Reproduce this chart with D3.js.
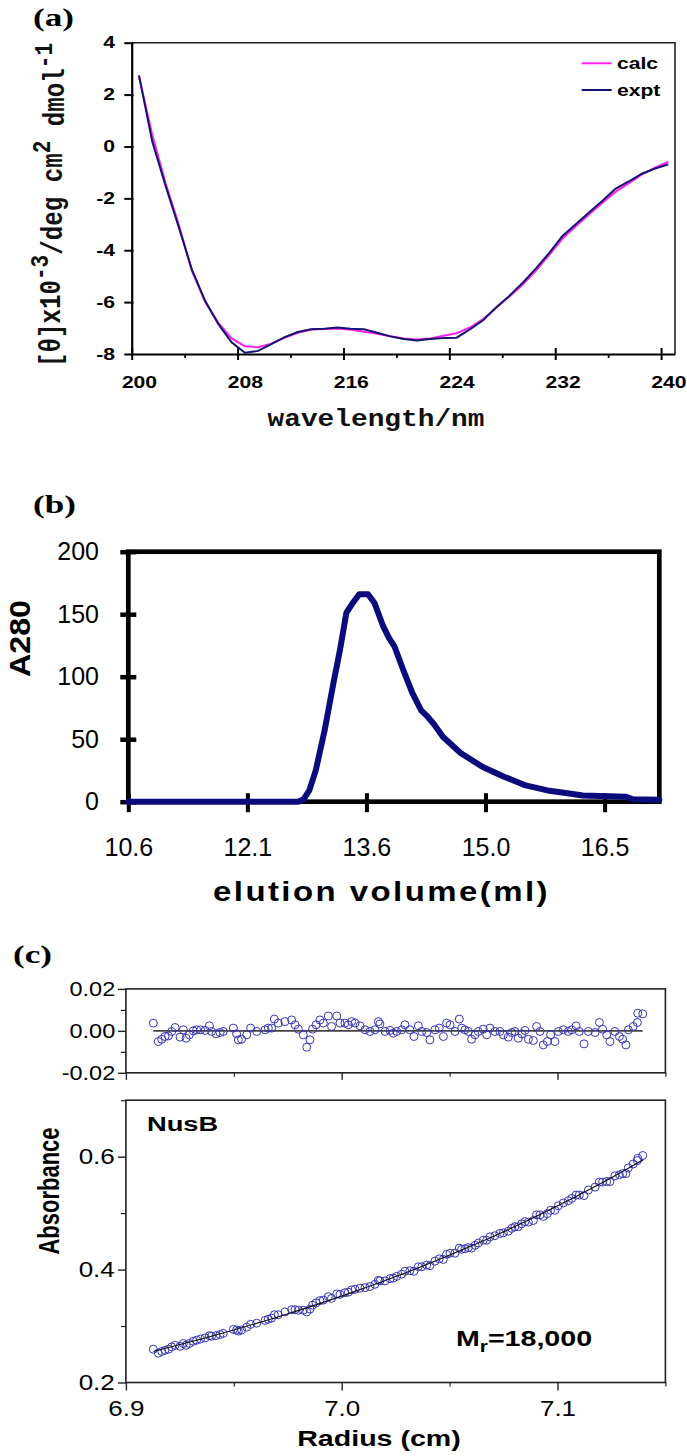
<!DOCTYPE html>
<html><head><meta charset="utf-8">
<script src="https://cdn.jsdelivr.net/npm/d3@7"></script>
<style>body{margin:0;background:#fff} svg{display:block}</style>
</head><body><svg id="c" width="687" height="1456"></svg>
<script>
// ---------- Panel (a): CD spectrum ----------
const cdWavelength = [200,201,202,203,204,205,206,207,208,209,210,211,212,213,214,215,216,217,218,219,220,
  221,222,223,224,225,226,227,228,229,230,231,232,233,234,235,236,237,238,239,240];
const cdExpt = [2.74,0.2,-1.5,-3.1,-4.75,-5.95,-6.85,-7.55,-7.95,-7.88,-7.62,-7.35,-7.15,-7.05,-7.03,-6.98,-7.03,-7.05,-7.18,-7.32,-7.42,
  -7.48,-7.42,-7.38,-7.37,-7.05,-6.7,-6.2,-5.75,-5.25,-4.7,-4.1,-3.45,-3.0,-2.55,-2.1,-1.63,-1.35,-1.05,-0.85,-0.69];
const cdCalc = [2.7,0.45,-1.4,-3.0,-4.8,-6.0,-6.8,-7.4,-7.7,-7.74,-7.6,-7.38,-7.18,-7.06,-7.04,-7.02,-7.07,-7.14,-7.22,-7.32,-7.4,
  -7.44,-7.4,-7.3,-7.2,-6.98,-6.65,-6.22,-5.78,-5.32,-4.78,-4.18,-3.55,-3.08,-2.62,-2.18,-1.75,-1.42,-1.08,-0.82,-0.59];
const cdXTickLabels = [200,208,216,224,232,240];
const cdYTicks = [-8,-6,-4,-2,0,2,4];
const cdSeries = ["calc","expt"];

// ---------- Panel (b): gel filtration ----------
const secVolume = [10.6,12.71,12.78,12.85,12.93,13.04,13.15,13.23,13.31,13.39,13.47,13.58,13.66,13.77,13.84,13.91,14.02,14.13,14.24,
  14.32,14.40,14.51,14.73,15.0,15.27,15.54,15.81,16.08,16.25,16.79,16.87,17.2];
const secA280 = [0,0,2,9,25,57,95,121,151,159,166,166,159,140,131,124,105,87,73,68,62,52,39,28,20,13,9,6.5,5,4,2,1.5];
const secXTicks = [10.6,12.08,13.56,15.04,16.52];
const secYTicks = [0,50,100,150,200];

// ---------- Panel (c): sedimentation equilibrium ----------
const auRadius = [
  6.9127,6.9150,6.9166,6.9181,6.9197,6.9212,6.9228,6.9251,6.9266,6.9279,
  6.9294,6.9312,6.9328,6.9346,6.9367,6.9387,6.9397,6.9418,6.9436,6.9451,
  6.9498,6.9513,6.9521,6.9536,6.9560,6.9578,6.9606,6.9645,6.9660,6.9675,
  6.9688,6.9706,6.9737,6.9768,6.9784,6.9799,6.9822,6.9838,6.9853,6.9865,
  6.9881,6.9899,6.9915,6.9938,6.9953,6.9977,6.9992,7.0015,7.0031,7.0046,
  7.0062,7.0085,7.0108,7.0131,7.0154,7.0170,7.0177,7.0201,7.0224,7.0239,
  7.0255,7.0278,7.0293,7.0316,7.0335,7.0355,7.0371,7.0394,7.0409,7.0432,
  7.0452,7.0471,7.0486,7.0502,7.0525,7.0545,7.0556,7.0571,7.0587,7.0602,
  7.0618,7.0633,7.0656,7.0672,7.0687,7.0710,7.0733,7.0749,7.0772,7.0788,
  7.0803,7.0818,7.0834,7.0849,7.0865,7.0888,7.0903,7.0919,7.0934,7.0953,
  7.0968,7.0988,7.1004,7.1027,7.1050,7.1066,7.1086,7.1101,7.1123,7.1143,
  7.1174,7.1194,7.1209,7.1228,7.1243,7.1266,7.1287,7.1302,7.1317,7.1328,
  7.1351,7.1370,7.1372,7.1395];
const auResidual = [
  0.0037,-0.0051,-0.0040,-0.0027,-0.0024,-0.0003,0.0016,-0.0030,0.0005,-0.0035,
  -0.0019,0.0000,0.0005,0.0005,0.0002,0.0024,-0.0003,-0.0014,-0.0008,-0.0003,
  0.0013,-0.0014,-0.0043,-0.0040,-0.0019,0.0013,-0.0003,0.0005,0.0013,0.0013,
  0.0056,0.0037,0.0044,0.0052,0.0029,0.0008,-0.0019,-0.0078,-0.0043,0.0008,
  0.0029,0.0052,0.0037,0.0071,0.0021,0.0071,0.0037,0.0037,0.0029,0.0044,
  0.0037,0.0024,0.0005,-0.0003,0.0005,0.0044,0.0033,-0.0003,0.0002,-0.0011,
  -0.0003,0.0005,0.0029,0.0005,-0.0027,0.0024,-0.0003,-0.0008,-0.0043,0.0005,
  0.0013,-0.0027,0.0037,0.0029,-0.0003,0.0056,0.0013,0.0005,-0.0003,-0.0040,
  -0.0019,-0.0003,0.0008,-0.0019,0.0013,-0.0003,-0.0003,-0.0019,-0.0030,-0.0008,
  -0.0003,-0.0035,-0.0014,0.0002,-0.0040,-0.0046,0.0021,-0.0003,-0.0067,-0.0051,
  -0.0019,-0.0051,-0.0003,0.0005,-0.0003,0.0005,0.0024,-0.0003,-0.0062,-0.0003,
  -0.0008,0.0040,0.0008,-0.0019,-0.0051,-0.0003,-0.0027,-0.0040,-0.0067,0.0005,
  0.0021,0.0040,0.0084,0.0081];
const auAbsorbance = [
  0.259,0.252,0.255,0.257,0.259,0.263,0.266,0.264,0.269,0.266,
  0.269,0.273,0.275,0.277,0.279,0.283,0.282,0.283,0.285,0.287,
  0.294,0.293,0.291,0.293,0.298,0.303,0.305,0.310,0.312,0.314,
  0.320,0.320,0.325,0.329,0.329,0.328,0.328,0.325,0.330,0.337,
  0.341,0.345,0.346,0.352,0.349,0.357,0.356,0.359,0.360,0.364,
  0.365,0.367,0.368,0.370,0.374,0.381,0.380,0.380,0.384,0.385,
  0.388,0.392,0.397,0.398,0.397,0.405,0.405,0.408,0.407,0.415,
  0.419,0.418,0.427,0.429,0.429,0.438,0.436,0.437,0.439,0.438,
  0.443,0.447,0.452,0.452,0.458,0.460,0.464,0.465,0.468,0.473,
  0.476,0.476,0.481,0.485,0.484,0.487,0.497,0.497,0.494,0.499,
  0.505,0.505,0.513,0.518,0.522,0.526,0.532,0.532,0.531,0.541,
  0.546,0.555,0.555,0.556,0.556,0.566,0.568,0.570,0.570,0.580,
  0.587,0.593,0.597,0.602];
const auFitRadius = [6.9128,6.94,6.97,7.0,7.03,7.06,7.09,7.12,7.1398];
const auFitAbs = [0.255,0.2822,0.3157,0.3530,0.3948,0.4416,0.4939,0.5523,0.5946];
const auXMajor = [6.9,7.0,7.1];
const auXMinor = [6.95,7.05,7.15];
const auResMajor = [-0.02,0,0.02];
const auResMinor = [-0.01,0.01];
const auAbsMajor = [0.2,0.4,0.6];
const auAbsMinor = [0.3,0.5,0.7];

// ---------- helpers ----------
const SANS = "'Liberation Sans', Arial, sans-serif";
const SERIF = "'Liberation Serif', 'Times New Roman', serif";
const MONO = "'Liberation Mono', 'Courier New', monospace";
const svg = d3.select('#c');
svg.append('rect').attr('width',687).attr('height',1456).attr('fill','#fff');

function stext(parent, x, y, s, o) {
  o = Object.assign({size:16, weight:'normal', family:SANS, sx:1, rot:0, anchor:'start', fill:'#000'}, o||{});
  return parent.append('text')
    .attr('transform', `translate(${x},${y}) scale(${o.sx},1)` + (o.rot ? ` rotate(${o.rot})` : ''))
    .attr('font-size', o.size).attr('font-weight', o.weight).attr('font-family', o.family)
    .attr('text-anchor', o.anchor).attr('fill', o.fill).text(s);
}
function styleAxisText(g, o) {
  g.selectAll('text').attr('font-size', o.size).attr('font-weight', o.weight||'normal')
    .attr('font-family', o.family||SANS).attr('fill','#000')
    .attr('transform', `scale(${o.sx||1},1)`);
}

// ================= Panel (a) =================
(function(){
  const SA = 1.32;
  const x = d3.scaleLinear().domain([199.45, 240.5]).range([131.7, 675]);
  const y = d3.scaleLinear().domain([-8, 4]).range([354, 42.7]);
  const g = svg.append('g');
  const [x0, x1] = x.range(), [yb, yt] = y.range();

  stext(g, 33, 26, '(a)', {size:26, weight:'bold', family:SERIF, sx:1.35});

  g.append('path').attr('d', `M${x0},${yt}H${x1}V${yb}`).attr('fill','none')
    .attr('stroke','#222').attr('stroke-width',1.6);

  const ya = g.append('g').attr('transform', `translate(${x0},0)`)
    .call(d3.axisLeft(y).tickValues(cdYTicks).tickSize(7.4).tickSizeOuter(0).tickPadding(5.3).tickFormat(d => String(d)));
  ya.select('.domain').attr('stroke','#000').attr('stroke-width',2.2);
  ya.selectAll('.tick line').attr('x1', 1.8).attr('stroke','#000').attr('stroke-width',2);
  styleAxisText(ya, {size:16, weight:'bold', sx:SA});

  const tickOffset = -0.55;
  const majors = cdXTickLabels.map(v => v + tickOffset);
  const minors = cdXTickLabels.slice(0, -1).map(v => v + 4 + tickOffset);
  const xa = g.append('g').attr('transform', `translate(0,${yb})`)
    .call(d3.axisBottom(x).tickValues(majors).tickSize(6).tickSizeOuter(0).tickFormat(''));
  xa.select('.domain').attr('stroke','#000').attr('stroke-width',2.2);
  xa.selectAll('.tick line').attr('y1', -6).attr('stroke','#000').attr('stroke-width',2);
  const xm = g.append('g').attr('transform', `translate(0,${yb})`)
    .call(d3.axisBottom(x).tickValues(minors).tickSize(4).tickFormat(''));
  xm.select('.domain').remove();
  xm.selectAll('.tick line').attr('stroke','#000').attr('stroke-width',1.8);
  const xl = g.append('g').attr('transform', `translate(0,${yb})`)
    .call(d3.axisBottom(x).tickValues(cdXTickLabels).tickSize(0).tickPadding(23).tickFormat(d => String(d)));
  xl.select('.domain').remove();
  styleAxisText(xl, {size:16, weight:'bold', sx:SA});

  const line = d3.line().x((d,i) => x(cdWavelength[i])).y(d => y(d));
  g.append('path').datum(cdCalc).attr('d', line).attr('fill','none').attr('stroke','#ff22ee').attr('stroke-width',2);
  g.append('path').datum(cdExpt).attr('d', line).attr('fill','none').attr('stroke','#141470').attr('stroke-width',2);

  const legColors = ['#ff22ee', '#141470'];
  cdSeries.forEach((s, i) => {
    const ly = 63.3 + i * 26.7;
    g.append('line').attr('x1', 581.7).attr('x2', 611.7).attr('y1', ly).attr('y2', ly)
      .attr('stroke', legColors[i]).attr('stroke-width', 2);
    stext(g, 617, ly + 5.8, s, {size:16, weight:'bold', sx:SA});
  });

  const yt0 = g.append('text')
    .attr('transform', `translate(60,205) scale(${SA},1) rotate(-90)`)
    .attr('font-family', MONO).attr('font-weight','bold').attr('font-size', 23).attr('text-anchor','middle').attr('fill','#111')
    .attr('textLength', 324).attr('lengthAdjust','spacingAndGlyphs');
  yt0.append('tspan').text('[θ]x10');
  yt0.append('tspan').attr('dy','-0.45em').attr('font-size', 20).text('-3');
  yt0.append('tspan').attr('dy','0.45em').text('/deg cm');
  yt0.append('tspan').attr('dy','-0.45em').attr('font-size', 20).text('2');
  yt0.append('tspan').attr('dy','0.45em').text(' dmol');
  yt0.append('tspan').attr('dy','-0.45em').attr('font-size', 20).text('-1');

  g.append('text').attr('x', 376).attr('y', 426).attr('font-family', MONO).attr('font-weight','bold')
    .attr('font-size', 23).attr('fill','#111')
    .attr('text-anchor','middle').attr('textLength', 217).attr('lengthAdjust','spacingAndGlyphs')
    .text('wavelength/nm');
})();

// ================= Panel (b) =================
(function(){
  const x = d3.scaleLinear().domain([10.6, 17.2]).range([128.3, 659.3]);
  const y = d3.scaleLinear().domain([0, 200]).range([801.7, 551.7]);
  const g = svg.append('g');
  const [x0, x1] = x.range(), [yb, yt] = y.range();

  stext(g, 33, 513, '(b)', {size:26, weight:'bold', family:SERIF, sx:1.35});

  g.append('rect').attr('x', x0).attr('y', yt).attr('width', x1 - x0).attr('height', yb - yt)
    .attr('fill','none').attr('stroke','#000').attr('stroke-width',4.7);

  const ya = g.append('g').attr('transform', `translate(${x0},0)`)
    .call(d3.axisLeft(y).tickValues(secYTicks).tickSize(8).tickSizeOuter(0).tickPadding(21.3));
  ya.select('.domain').remove();
  ya.selectAll('.tick line').attr('x1', 8).attr('stroke','#000').attr('stroke-width',4.5);
  styleAxisText(ya, {size:25});

  const xa = g.append('g').attr('transform', `translate(0,${yb})`)
    .call(d3.axisBottom(x).tickValues(secXTicks).tickSize(10.5).tickSizeOuter(0).tickPadding(26).tickFormat(d3.format('.1f')));
  xa.select('.domain').remove();
  xa.selectAll('.tick line').attr('y1', -8.5).attr('stroke','#000').attr('stroke-width',4);
  styleAxisText(xa, {size:25});

  const line = d3.line().x((d,i) => x(secVolume[i])).y(d => y(d));
  g.append('path').datum(secA280).attr('d', line).attr('fill','none')
    .attr('stroke','#0b0b7e').attr('stroke-width',6).attr('stroke-linejoin','round').attr('stroke-linecap','round');

  stext(g, 30, 638.5, 'A280', {size:30, weight:'bold', rot:-90, anchor:'middle'})
    .attr('textLength', 77).attr('lengthAdjust','spacingAndGlyphs');
  g.append('text').attr('x', 381.5).attr('y', 901).attr('font-family', SANS).attr('font-weight','bold')
    .attr('font-size', 27).attr('letter-spacing', 2).attr('text-anchor','middle')
    .attr('textLength', 337).attr('lengthAdjust','spacingAndGlyphs')
    .text('elution volume(ml)');
})();

// ================= Panel (c) =================
(function(){
  const SC = 1.3;
  const x = d3.scaleLinear().domain([6.9, 7.15]).range([125.9, 665.4]);
  const yr = d3.scaleLinear().domain([-0.02, 0.02]).range([1072.8, 988.9]);
  const ym = d3.scaleLinear().domain([0.2, 0.7]).range([1382.5, 1100.2]);
  const g = svg.append('g');
  const [x0, x1] = x.range();
  const n = Math.min(auRadius.length, auResidual.length, auAbsorbance.length);
  const idx = d3.range(n);
  const ptColor = '#3535b5';

  stext(g, 13, 963, '(c)', {size:26, weight:'bold', family:SERIF, sx:1.35});

  // ---- residual panel ----
  g.append('rect').attr('x', x0).attr('y', yr.range()[1]).attr('width', x1 - x0)
    .attr('height', yr.range()[0] - yr.range()[1]).attr('fill','none').attr('stroke','#222').attr('stroke-width',1.6);
  const ra = g.append('g').attr('transform', `translate(${x0},0)`)
    .call(d3.axisLeft(yr).tickValues(auResMajor).tickSize(8).tickSizeOuter(0).tickPadding(1.5).tickFormat(d => d.toFixed(2)));
  ra.select('.domain').remove();
  ra.selectAll('.tick line').attr('stroke','#222').attr('stroke-width',1.4);
  styleAxisText(ra, {size:21, sx:1.12});
  const rm = g.append('g').attr('transform', `translate(${x0},0)`)
    .call(d3.axisLeft(yr).tickValues(auResMinor).tickSize(5).tickFormat(''));
  rm.select('.domain').remove();
  rm.selectAll('.tick line').attr('stroke','#222').attr('stroke-width',1.2);
  const rb = g.append('g').attr('transform', `translate(0,${yr.range()[0]})`)
    .call(d3.axisBottom(x).tickValues(auXMajor).tickSize(7).tickFormat(''));
  rb.select('.domain').remove();
  rb.selectAll('.tick line').attr('stroke','#222').attr('stroke-width',1.4);
  const rb2 = g.append('g').attr('transform', `translate(0,${yr.range()[0]})`)
    .call(d3.axisBottom(x).tickValues(auXMinor).tickSize(4).tickFormat(''));
  rb2.select('.domain').remove();
  rb2.selectAll('.tick line').attr('stroke','#222').attr('stroke-width',1.2);

  g.append('line').attr('x1', x(auRadius[0])).attr('x2', x(auRadius[n-1]))
    .attr('y1', yr(0)).attr('y2', yr(0)).attr('stroke','#444').attr('stroke-width',1.6);
  g.append('g').selectAll('circle').data(idx).join('circle')
    .attr('cx', i => x(auRadius[i])).attr('cy', i => yr(auResidual[i])).attr('r', 4)
    .attr('fill','none').attr('stroke', ptColor).attr('stroke-width', 1);

  // ---- main panel ----
  g.append('rect').attr('x', x0).attr('y', ym.range()[1]).attr('width', x1 - x0)
    .attr('height', ym.range()[0] - ym.range()[1]).attr('fill','none').attr('stroke','#222').attr('stroke-width',1.6);
  const ma = g.append('g').attr('transform', `translate(${x0},0)`)
    .call(d3.axisLeft(ym).tickValues(auAbsMajor).tickSize(8).tickSizeOuter(0).tickPadding(1.5).tickFormat(d => d.toFixed(1)));
  ma.select('.domain').remove();
  ma.selectAll('.tick line').attr('stroke','#222').attr('stroke-width',1.4);
  styleAxisText(ma, {size:22, sx:1.18});
  const mm = g.append('g').attr('transform', `translate(${x0},0)`)
    .call(d3.axisLeft(ym).tickValues(auAbsMinor).tickSize(5).tickFormat(''));
  mm.select('.domain').remove();
  mm.selectAll('.tick line').attr('stroke','#222').attr('stroke-width',1.2);
  const mb = g.append('g').attr('transform', `translate(0,${ym.range()[0]})`)
    .call(d3.axisBottom(x).tickValues(auXMajor).tickSize(8).tickSizeOuter(0).tickPadding(9.6).tickFormat(d => d.toFixed(1)));
  mb.select('.domain').remove();
  mb.selectAll('.tick line').attr('stroke','#222').attr('stroke-width',1.4);
  styleAxisText(mb, {size:22, sx:1.18});
  const mb2 = g.append('g').attr('transform', `translate(0,${ym.range()[0]})`)
    .call(d3.axisBottom(x).tickValues(auXMinor).tickSize(4).tickFormat(''));
  mb2.select('.domain').remove();
  mb2.selectAll('.tick line').attr('stroke','#222').attr('stroke-width',1.2);

  g.append('g').selectAll('circle').data(idx).join('circle')
    .attr('cx', i => x(auRadius[i])).attr('cy', i => ym(auAbsorbance[i])).attr('r', 4)
    .attr('fill','none').attr('stroke', ptColor).attr('stroke-width', 1);
  const fit = d3.line().curve(d3.curveMonotoneX).x((d,i) => x(auFitRadius[i])).y(d => ym(d));
  g.append('path').datum(auFitAbs).attr('d', fit).attr('fill','none').attr('stroke','#111').attr('stroke-width',1.1);

  stext(g, 147, 1131, 'NusB', {size:21, weight:'bold', sx:SC});
  const mr = g.append('text').attr('transform', `translate(456,1346) scale(${SC},1)`)
    .attr('font-family', SANS).attr('font-weight','bold').attr('font-size', 22).attr('fill','#000');
  mr.append('tspan').text('M');
  mr.append('tspan').attr('font-size', 16).attr('dy', 6).text('r');
  mr.append('tspan').attr('dy', -6).text('=18,000');
  stext(g, 59, 1191, 'Absorbance', {size:22, weight:'bold', sx:SC, rot:-90, anchor:'middle'});
  stext(g, 379, 1446, 'Radius (cm)', {size:22, weight:'bold', sx:SC, anchor:'middle'});
})();
</script>
</body></html>
